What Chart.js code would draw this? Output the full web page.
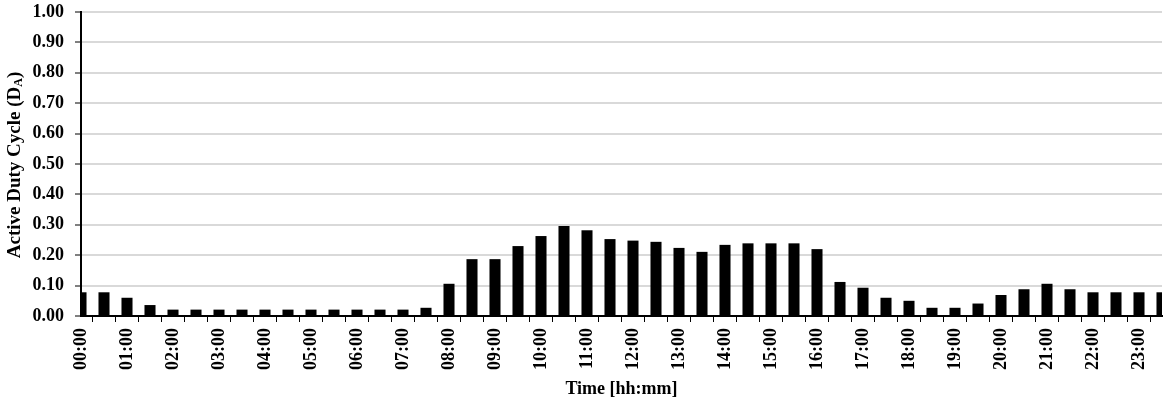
<!DOCTYPE html>
<html>
<head>
<meta charset="utf-8">
<script src="https://cdn.jsdelivr.net/npm/chart.js@4/dist/chart.umd.min.js"></script>
<style>
  html, body { margin: 0; padding: 0; background: #fff; }
  #wrap { width: 1165px; height: 403px; }
</style>
</head>
<body>
<div id="wrap"><canvas id="graphicDuty" width="1165" height="403"></canvas></div>
<script>
// Active duty cycle per half hour (bar chart)

const timeLabels = [
  '00:00','00:30','01:00','01:30','02:00','02:30','03:00','03:30',
  '04:00','04:30','05:00','05:30','06:00','06:30','07:00','07:30',
  '08:00','08:30','09:00','09:30','10:00','10:30','11:00','11:30',
  '12:00','12:30','13:00','13:30','14:00','14:30','15:00','15:30',
  '16:00','16:30','17:00','17:30','18:00','18:30','19:00','19:30',
  '20:00','20:30','21:00','21:30','22:00','22:30','23:00','23:30'
];

const dutyCycle = [
  0.078, 0.078, 0.060, 0.036, 0.021, 0.021, 0.021, 0.021,
  0.021, 0.021, 0.021, 0.021, 0.021, 0.021, 0.021, 0.027,
  0.106, 0.187, 0.187, 0.230, 0.263, 0.296, 0.282, 0.253,
  0.248, 0.244, 0.224, 0.211, 0.234, 0.239, 0.239, 0.239,
  0.220, 0.112, 0.093, 0.060, 0.050, 0.027, 0.027, 0.041,
  0.069, 0.088, 0.106, 0.088, 0.078, 0.078, 0.078, 0.078
];

const yMin = 0;
const yMax = 1;
const yStep = 0.1;

const serif = "'Liberation Serif', 'Times New Roman', serif";

// y title with subscript, canvas titles can't do that
const yTitlePlugin = {
  id: 'yTitle',
  afterDraw(chart) {
    const ctx = chart.ctx;
    const area = chart.chartArea;
    const main = 'Active Duty Cycle (D';
    const sub = 'A';
    const tail = ')';
    ctx.save();
    ctx.fillStyle = '#000';
    ctx.textBaseline = 'middle';
    ctx.font = 'bold 19px ' + serif;
    const wMain = ctx.measureText(main).width;
    const wTail = ctx.measureText(tail).width;
    ctx.font = 'bold 12px ' + serif;
    const wSub = ctx.measureText(sub).width;
    const total = wMain + wSub + wTail;
    ctx.translate(15, (area.top + area.bottom) / 2 + 1);
    ctx.rotate(-Math.PI / 2);
    let x = -total / 2;
    ctx.textAlign = 'left';
    ctx.font = 'bold 19px ' + serif;
    ctx.fillText(main, x, 0);
    x += wMain;
    ctx.font = 'bold 12px ' + serif;
    ctx.fillText(sub, x, 4);
    x += wSub;
    ctx.font = 'bold 19px ' + serif;
    ctx.fillText(tail, x, 0);
    ctx.restore();
  }
};

let chart1;
function drawDutyChart() {
  const ctx = document.getElementById('graphicDuty').getContext('2d');
  if (chart1) {
    chart1.destroy();
  }
  chart1 = new Chart(ctx, {
    type: 'bar',
    data: {
      labels: timeLabels,
      datasets: [{
        label: 'Duty cycle',
        data: dutyCycle,
        backgroundColor: '#000',
        borderWidth: 0,
        categoryPercentage: 1,
        barPercentage: 0.48,
      }]
    },
    options: {
      responsive: false,
      animation: false,
      devicePixelRatio: 1,
      layout: { padding: { top: 12, right: 3, left: 0, bottom: 0 } },
      plugins: {
        legend: { display: false },
        tooltip: { enabled: false },
      },
      scales: {
        x: {
          offset: false,
          grid: {
            drawOnChartArea: false,
            tickColor: '#000',
            tickLength: 6,
            tickWidth: 1,
          },
          border: { color: '#000', width: 2 },
          ticks: {
            autoSkip: false,
            maxRotation: 90,
            minRotation: 90,
            padding: 6,
            color: '#000',
            font: { family: serif, size: 18, weight: 'bold' },
            callback: function(val, idx) {
              return idx % 2 === 0 ? timeLabels[idx] : '';
            }
          },
          title: {
            display: true,
            text: 'Time [hh:mm]',
            color: '#000',
            font: { family: serif, size: 18, weight: 'bold' },
            padding: { top: 0, bottom: 3 },
          },
          afterFit: function(scale) {
            scale.height = 87;
            scale.paddingLeft = 0;
            scale.paddingRight = 0;
          }
        },
        y: {
          min: yMin,
          max: yMax,
          grid: {
            color: '#d9d9d9',
            lineWidth: 2,
            tickColor: '#000',
            tickLength: 6,
            tickWidth: 1,
          },
          border: { color: '#000', width: 2 },
          ticks: {
            stepSize: yStep,
            padding: 11,
            color: '#000',
            font: { family: serif, size: 18, weight: 'bold' },
            callback: function(val) { return val.toFixed(2); }
          },
          afterFit: function(scale) {
            scale.width = 81;
            scale.paddingTop = 0;
            scale.paddingBottom = 0;
          }
        }
      }
    },
    plugins: [yTitlePlugin]
  });
}

drawDutyChart();
</script>
</body>
</html>
